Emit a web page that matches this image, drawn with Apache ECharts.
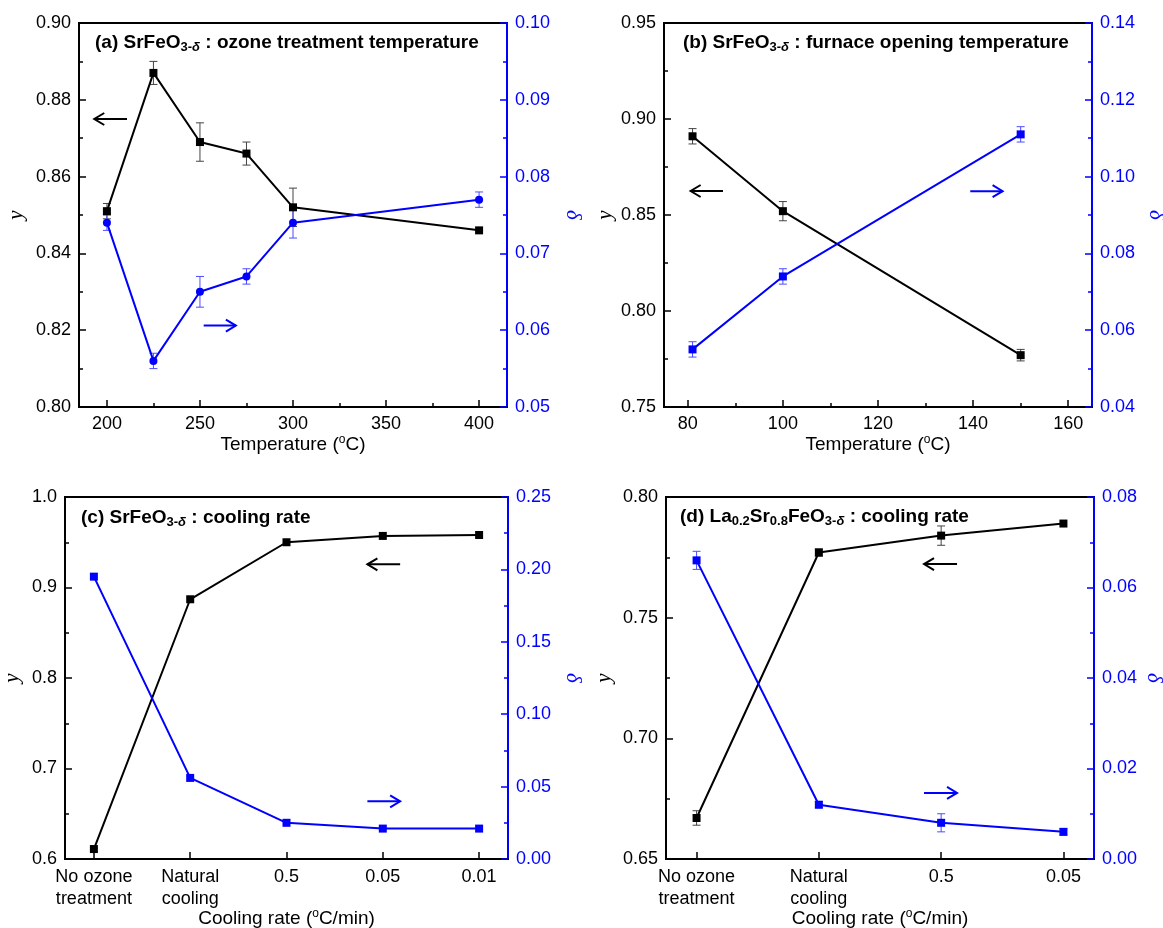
<!DOCTYPE html>
<html><head><meta charset="utf-8">
<script src="https://cdn.jsdelivr.net/npm/echarts@6/dist/echarts.min.js"></script>
<style>html,body{margin:0;padding:0;background:#fff}#c{width:1163px;height:928px}</style>
</head><body><div id="c"></div>
<script>
// ---- data ----
const aTemp = [200, 225, 250, 275, 300, 400];
const aY = [0.851, 0.887, 0.869, 0.866, 0.852, 0.846];
const aYErr = [0.002, 0.003, 0.005, 0.003, 0.005, 0];
const aD = [0.074, 0.056, 0.065, 0.067, 0.074, 0.077];
const aDErr = [0.001, 0.001, 0.002, 0.001, 0.002, 0.001];
const aXTicks = [200, 250, 300, 350, 400];
const aXMinor = [225, 275, 325, 375];

const bTemp = [81, 100, 150];
const bY = [0.891, 0.852, 0.777];
const bYErr = [0.004, 0.005, 0.003];
const bD = [0.055, 0.074, 0.111];
const bDErr = [0.002, 0.002, 0.002];
const bXTicks = [80, 100, 120, 140, 160];
const bXMinor = [90, 110, 130, 150];

const cCats = ['No ozone\ntreatment', 'Natural\ncooling', '0.5', '0.05', '0.01'];
const cY = [0.611, 0.887, 0.950, 0.957, 0.958];
const cD = [0.195, 0.056, 0.025, 0.021, 0.021];

const dCats = ['No ozone\ntreatment', 'Natural\ncooling', '0.5', '0.05'];
const dY = [0.667, 0.777, 0.784, 0.789];
const dYErr = [0.003, 0.0015, 0.004, 0];
const dD = [0.066, 0.012, 0.008, 0.006];
const dDErr = [0.002, 0.0007, 0.002, 0.0007];

// arrows: [from, to, y]
const aArrowY = [210.8, 193.2, 0.875];
const aArrowD = [252, 269.3, 0.0606];
const bArrowY = [87.4, 80.6, 0.8625];
const bArrowD = [139.4, 146.2, 0.0962];
const cArrowY = [3.18, 2.84, 0.9256];
const cArrowD = [2.84, 3.18, 0.0398];
const dArrowY = [2.13, 1.86, 0.7722];
const dArrowD = [1.86, 2.13, 0.0146];

// ---- styles ----
const FONT = "'Liberation Sans', Arial, sans-serif";
const BLUE = '#0000ff';
const BLACK = '#000000';

function errRender(color) {
  return function (params, api) {
    const x = api.value(0), lo = api.value(1), hi = api.value(2);
    const pLo = api.coord([x, lo]), pHi = api.coord([x, hi]);
    const w = 4;
    const st = {stroke: color, lineWidth: 1};
    return {type: 'group', children: [
      {type: 'line', shape: {x1: pLo[0], y1: pLo[1], x2: pHi[0], y2: pHi[1]}, style: st},
      {type: 'line', shape: {x1: pLo[0] - w, y1: pLo[1], x2: pLo[0] + w, y2: pLo[1]}, style: st},
      {type: 'line', shape: {x1: pHi[0] - w, y1: pHi[1], x2: pHi[0] + w, y2: pHi[1]}, style: st}
    ]};
  };
}
function arrowRender(color) {
  return function (params, api) {
    const p1 = api.coord([api.value(0), api.value(2)]);
    const p2 = api.coord([api.value(1), api.value(2)]);
    const dir = Math.sign(p2[0] - p1[0]);
    const hl = 10, hw = 6;
    const st = {stroke: color, lineWidth: 2, fill: null};
    return {type: 'group', children: [
      {type: 'line', shape: {x1: p1[0], y1: p1[1], x2: p2[0], y2: p2[1]}, style: st},
      {type: 'polyline', shape: {points: [[p2[0] - dir * hl, p2[1] - hw], [p2[0], p2[1]], [p2[0] - dir * hl, p2[1] + hw]]}, style: st}
    ]};
  };
}

function errData(xs, ys, es) {
  const out = [];
  xs.forEach((x, i) => { if (es[i] > 0) out.push([x, ys[i] - es[i], ys[i] + es[i]]); });
  return out;
}
function pts(xs, ys) { return xs.map((x, i) => [x, ys[i]]); }
function idx(arr) { return arr.map((_, i) => i); }

const supRich = {sup: {fontSize: 12, fontFamily: FONT, color: '#000', padding: [0, 0, 10, 0]}};
const titleRich = {
  sub: {fontSize: 13, fontWeight: 'bold', fontFamily: FONT, color: '#000', padding: [10, 0, 0, 0]},
  subi: {fontSize: 13, fontWeight: 'bold', fontStyle: 'italic', fontFamily: FONT, color: '#000', padding: [10, 0, 0, 0]}
};

function xMain(grid, min, max, ticks, fmt, name, nameGap, labelLH, labelMargin) {
  return {
    type: 'value', gridIndex: grid, min: min, max: max, position: 'bottom',
    axisLine: {show: true, onZero: false, lineStyle: {color: BLACK, width: 2}},
    axisTick: {show: true, inside: true, length: 7, customValues: ticks, lineStyle: {color: BLACK, width: 1.5}},
    axisLabel: {show: true, customValues: ticks, formatter: fmt, color: '#000', fontSize: 18, fontFamily: FONT, margin: labelMargin, lineHeight: labelLH},
    splitLine: {show: false},
    name: name, nameLocation: 'middle', nameGap: nameGap, nameMoveOverlap: false,
    nameTextStyle: {color: '#000', fontSize: 19, fontFamily: FONT, rich: supRich}
  };
}
function xMinor(grid, min, max, ticks) {
  return {
    type: 'value', gridIndex: grid, min: min, max: max, position: 'bottom',
    axisLine: {show: false},
    axisTick: {show: true, inside: true, length: 4, customValues: ticks, lineStyle: {color: BLACK, width: 1.5}},
    axisLabel: {show: false}, splitLine: {show: false}
  };
}
function yAx(grid, side, min, max, interval, dec, nameGap) {
  const col = side === 'left' ? BLACK : BLUE;
  return {
    type: 'value', gridIndex: grid, position: side, min: min, max: max, interval: interval,
    axisLine: {show: true, onZero: false, lineStyle: {color: col, width: 2}},
    axisTick: {show: true, inside: true, length: 7, lineStyle: {color: col, width: 1.5}},
    minorTick: {show: true, splitNumber: 2, length: 4, lineStyle: {color: col, width: 1.5}},
    splitLine: {show: false}, minorSplitLine: {show: false},
    axisLabel: {color: col, fontSize: 18, fontFamily: FONT, margin: 8, formatter: v => v.toFixed(dec)},
    name: side === 'left' ? 'y' : 'δ', nameLocation: 'middle', nameGap: nameGap, nameMoveOverlap: false,
    nameRotate: side === 'left' ? 90 : -90,
    nameTextStyle: {color: col, fontSize: 21, fontStyle: 'italic', fontFamily: "'Liberation Serif', 'DejaVu Serif', serif"}
  };
}

function lineSeries(xi, yi, data, color, symbol) {
  return {type: 'line', xAxisIndex: xi, yAxisIndex: yi, data: data, symbol: symbol, symbolSize: 8,
    lineStyle: {color: color, width: 2}, itemStyle: {color: color}, z: 3, animation: false};
}
function errSeries(xi, yi, data, color) {
  return {type: 'custom', xAxisIndex: xi, yAxisIndex: yi, data: data, renderItem: errRender(color),
    encode: {x: 0, y: [1, 2]}, z: 2, animation: false, silent: true};
}
function arrowSeries(xi, yi, arr, color) {
  return {type: 'custom', xAxisIndex: xi, yAxisIndex: yi, data: [arr], renderItem: arrowRender(color),
    encode: {x: [0, 1], y: 2}, z: 4, animation: false, silent: true};
}

const gridStyle = {show: true, borderColor: BLACK, borderWidth: 2, containLabel: false, outerBoundsMode: 'none'};
const tempName = 'Temperature ({sup|o}C)';
const coolName = 'Cooling rate ({sup|o}C/min)';

const option = {
  animation: false,
  backgroundColor: '#fff',
  textStyle: {fontFamily: FONT},
  title: [
    {text: '(a) SrFeO{sub|3-}{subi|δ} : ozone treatment temperature', left: 95, top: 31, padding: 0,
      textStyle: {fontSize: 19, fontWeight: 'bold', fontFamily: FONT, color: '#000', rich: titleRich}},
    {text: '(b) SrFeO{sub|3-}{subi|δ} : furnace opening temperature', left: 683, top: 31, padding: 0,
      textStyle: {fontSize: 19, fontWeight: 'bold', fontFamily: FONT, color: '#000', rich: titleRich}},
    {text: '(c) SrFeO{sub|3-}{subi|δ} : cooling rate', left: 81, top: 506, padding: 0,
      textStyle: {fontSize: 19, fontWeight: 'bold', fontFamily: FONT, color: '#000', rich: titleRich}},
    {text: '(d) La{sub|0.2}Sr{sub|0.8}FeO{sub|3-}{subi|δ} : cooling rate', left: 680, top: 505, padding: 0,
      textStyle: {fontSize: 19, fontWeight: 'bold', fontFamily: FONT, color: '#000', rich: titleRich}}
  ],
  grid: [
    Object.assign({left: 79, top: 23, width: 428, height: 384}, gridStyle),
    Object.assign({left: 664, top: 23, width: 428, height: 384}, gridStyle),
    Object.assign({left: 65, top: 497, width: 443, height: 362}, gridStyle),
    Object.assign({left: 666, top: 497, width: 428, height: 362}, gridStyle)
  ],
  xAxis: [
    xMain(0, 185, 415, aXTicks, v => String(v), tempName, 27, 18, 8),
    xMinor(0, 185, 415, aXMinor),
    xMain(1, 75, 165, bXTicks, v => String(v), tempName, 27, 18, 8),
    xMinor(1, 75, 165, bXMinor),
    xMain(2, -0.3, 4.3, idx(cCats), v => cCats[Math.round(v)], coolName, 49, 22, 7),
    xMain(3, -0.25, 3.25, idx(dCats), v => dCats[Math.round(v)], coolName, 49, 22, 7)
  ],
  yAxis: [
    yAx(0, 'left', 0.80, 0.90, 0.02, 2, 52),
    yAx(0, 'right', 0.05, 0.10, 0.01, 2, 55),
    yAx(1, 'left', 0.75, 0.95, 0.05, 2, 48),
    yAx(1, 'right', 0.04, 0.14, 0.02, 2, 53),
    yAx(2, 'left', 0.6, 1.0, 0.1, 1, 42),
    yAx(2, 'right', 0.00, 0.25, 0.05, 2, 54),
    yAx(3, 'left', 0.65, 0.80, 0.05, 2, 51),
    yAx(3, 'right', 0.00, 0.08, 0.02, 2, 49)
  ],
  series: [
    // (a)
    errSeries(0, 0, errData(aTemp, aY, aYErr), '#444'),
    errSeries(0, 1, errData(aTemp, aD, aDErr), '#4d4dff'),
    lineSeries(0, 0, pts(aTemp, aY), BLACK, 'rect'),
    lineSeries(0, 1, pts(aTemp, aD), BLUE, 'circle'),
    arrowSeries(0, 0, aArrowY, BLACK),
    arrowSeries(0, 1, aArrowD, BLUE),
    // (b)
    errSeries(2, 2, errData(bTemp, bY, bYErr), '#444'),
    errSeries(2, 3, errData(bTemp, bD, bDErr), '#4d4dff'),
    lineSeries(2, 2, pts(bTemp, bY), BLACK, 'rect'),
    lineSeries(2, 3, pts(bTemp, bD), BLUE, 'rect'),
    arrowSeries(2, 2, bArrowY, BLACK),
    arrowSeries(2, 3, bArrowD, BLUE),
    // (c)
    lineSeries(4, 4, pts(idx(cCats), cY), BLACK, 'rect'),
    lineSeries(4, 5, pts(idx(cCats), cD), BLUE, 'rect'),
    arrowSeries(4, 4, cArrowY, BLACK),
    arrowSeries(4, 5, cArrowD, BLUE),
    // (d)
    errSeries(5, 6, errData(idx(dCats), dY, dYErr), '#444'),
    errSeries(5, 7, errData(idx(dCats), dD, dDErr), '#4d4dff'),
    lineSeries(5, 6, pts(idx(dCats), dY), BLACK, 'rect'),
    lineSeries(5, 7, pts(idx(dCats), dD), BLUE, 'rect'),
    arrowSeries(5, 6, dArrowY, BLACK),
    arrowSeries(5, 7, dArrowD, BLUE)
  ]
};

const chart = echarts.init(document.getElementById('c'), null, {renderer: 'canvas'});
chart.setOption(option);
</script>
</body></html>
